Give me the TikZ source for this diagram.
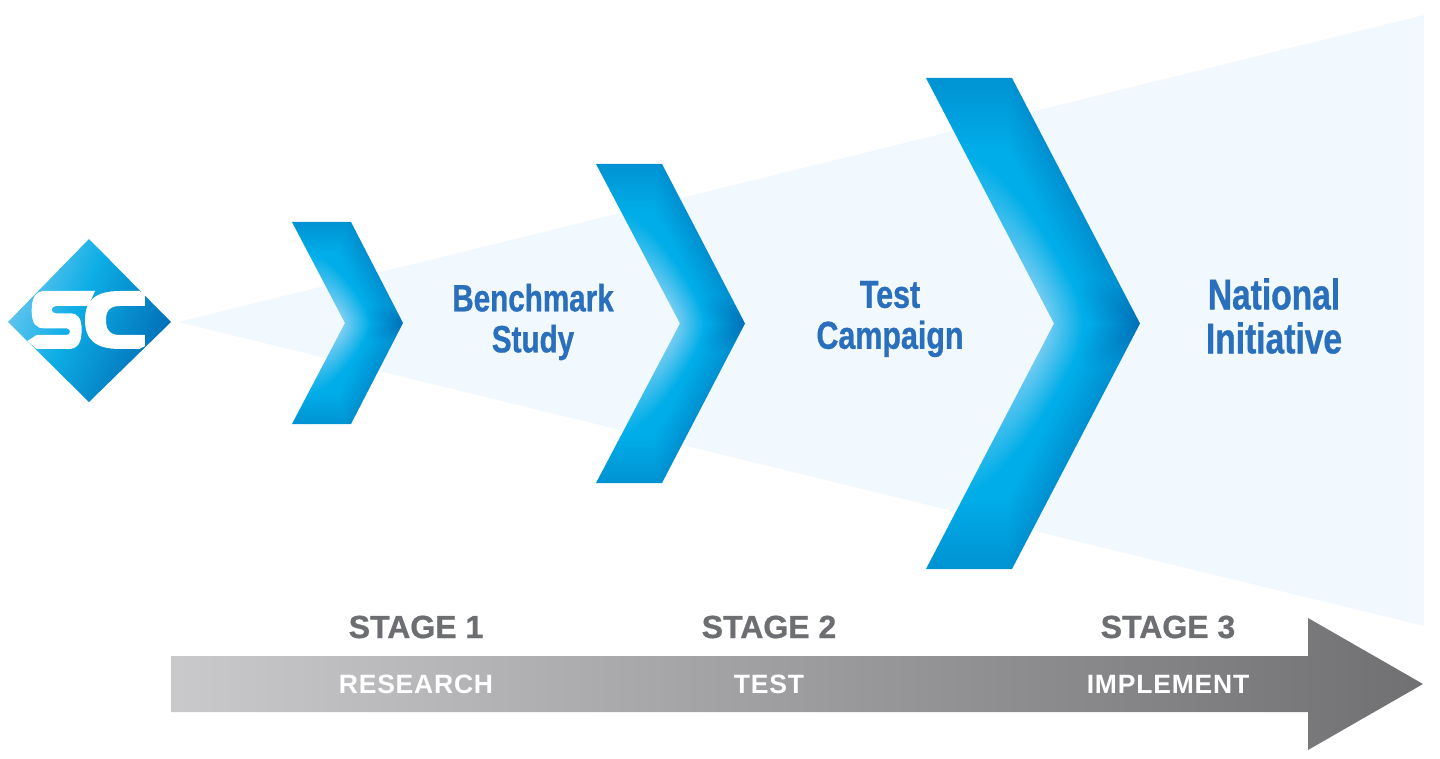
\documentclass[tikz,border=0pt]{standalone}
\usepackage{fontspec}
\setmainfont{Liberation Sans}
\newfontfamily\condfont[FakeStretch=0.78,BoldFeatures={FakeBold=0.8}]{Liberation Sans}
\newfontfamily\heavyfont[BoldFeatures={FakeBold=0.8}]{Liberation Sans}
\newfontfamily\spacedfont[LetterSpace=3]{Liberation Sans}
\usepackage{tikz}
\usetikzlibrary{positioning}

\definecolor{wedgeblue}{HTML}{F1F8FE}
\definecolor{textblue}{HTML}{2A6FBB}
\definecolor{stagegray}{HTML}{6D6E71}

% stack: x y -> r g b, #2 = notch position, #3 = arm width (fractions of the box)
\newcommand{\chevshade}[3]{%
  \pgfdeclarefunctionalshading{#1}{\pgfpointorigin}{\pgfpoint{100bp}{100bp}}{}{
    50 sub abs 25 div exch 25 sub 50 div
    1 index 1 exch sub #2 mul sub #3 div
    2 copy 1 index dup mul 0.02 add sqrt 2 index sub #2 mul #3 div add
    0.55 div dup mul exch 0.7 div dup mul add sqrt 1 exch sub 1.3 mul
    dup 0 lt {pop 0} if dup 1 gt {pop 1} if
    3 1 roll
    2 copy 1 exch sub 0.6 div dup mul exch 0.3 div dup mul add sqrt 1 exch sub
    3 1 roll
    0.5 sub 0.5 div 0.5 mul dup 0 lt {pop 0} if
    exch 0.7 sub 0.3 div 0.45 mul 2 copy lt {exch} if pop
    2 copy lt {exch} if pop
    dup -0.24 mul 0.68 add exch -0.19 mul 0.91 add
    2 index 1 exch sub mul 2 index 0.95 mul add exch
    2 index 1 exch sub mul 2 index 0.80 mul add exch
    3 -1 roll 0.45 mul 3 1 roll
  }}
\chevshade{chevone}{0.477}{0.523}
\chevshade{chevtwo}{0.564}{0.436}
\chevshade{chevthree}{0.598}{0.402}

\pgfdeclarehorizontalshading{logoshading}{100bp}{
  rgb(0bp)=(0.42,0.78,0.94); rgb(25bp)=(0.42,0.78,0.94);
  rgb(45bp)=(0.05,0.68,0.90); rgb(75bp)=(0.0,0.42,0.71); rgb(100bp)=(0.0,0.42,0.71)}
\pgfdeclarehorizontalshading{barshading}{100bp}{
  rgb(0bp)=(0.79,0.79,0.80); rgb(25bp)=(0.79,0.79,0.80);
  rgb(75bp)=(0.44,0.44,0.45); rgb(100bp)=(0.44,0.44,0.45)}

\tikzset{
  step title/.style={text=textblue, align=center, font=\condfont\bfseries\fontsize{#1}{#1}\selectfont},
  stage label/.style={text=stagegray, font=\heavyfont\bfseries\fontsize{32}{33}\selectfont},
  phase label/.style={text=white, font=\spacedfont\bfseries\fontsize{26.5}{27}\selectfont}
}

\begin{document}
\begin{tikzpicture}[x=1pt,y=-1pt]
  \useasboundingbox (0,0) rectangle (1440,759);

  \fill[wedgeblue] (178,322) -- (1424,15) -- (1424,626) -- cycle; % pale wedge

  % logo
  \shade[shading=logoshading,shading angle=-25] (8,322) -- (89,239) -- (171,322) -- (89,402) -- cycle;
  \begin{scope}[shift={(20,280)},x=0.3333pt,y=-0.3333pt]
    \fill[white] (75,33) -- (225,33) -- (205,78) -- (108,78) .. controls (91,78) and (91,100) .. (108,100)
      -- (150,100) .. controls (176,100) and (185,118) .. (185,150) .. controls (185,190) and (172,207) .. (145,207)
      -- (50,207) -- (22,183) -- (50,165) -- (140,165) .. controls (153,165) and (153,145) .. (140,145)
      -- (72,145) .. controls (46,145) and (35,128) .. (35,92) .. controls (35,52) and (48,33) .. (75,33) -- cycle;
    \fill[white] (300,33) -- (358,33) -- (375,42) -- (375,78) -- (300,78)
      .. controls (270,78) and (258,92) .. (258,120) .. controls (258,150) and (270,165) .. (300,165)
      -- (375,165) -- (375,198) -- (358,207) -- (300,207)
      .. controls (225,207) and (195,178) .. (195,120) .. controls (195,62) and (225,33) .. (300,33) -- cycle;
  \end{scope}

  % chevrons
  \foreach \xl/\tp/\xr/\xn/\xt/\bt/\nm in {292/222/351/345/403/424/chevone,
    596/164/662/680/745/483/chevtwo, 926/78/1012/1054/1140/569/chevthree}{
    \shade[shading=\nm] (\xl,\tp) -- (\xr,\tp) -- (\xt,{(\tp+\bt)/2}) -- (\xr,\bt) -- (\xl,\bt) -- (\xn,{(\tp+\bt)/2}) -- cycle;
  }

  \node[step title=38] (benchmark) at (533,322) {Benchmark\\[3pt]Study};
  \node[step title=39] (campaign) at (890,319) {Test\\[2pt]Campaign};
  \node[step title=43] (national) at (1274,316) {National\\[1pt]Initiative};

  % time arrow
  \shade[shading=barshading] (171,656) -- (1308,656) -- (1308,618) -- (1423,684) -- (1308,750) -- (1308,712) -- (171,712) -- cycle;

  \foreach \x/\n/\s/\p in {416/one/1/RESEARCH, 769/two/2/TEST, 1168/three/3/IMPLEMENT}{
    \node[stage label] (stage\n) at (\x,627) {STAGE \s};
    \node[phase label] (phase\n) at (\x,684) {\p};
  }
\end{tikzpicture}
\end{document}
